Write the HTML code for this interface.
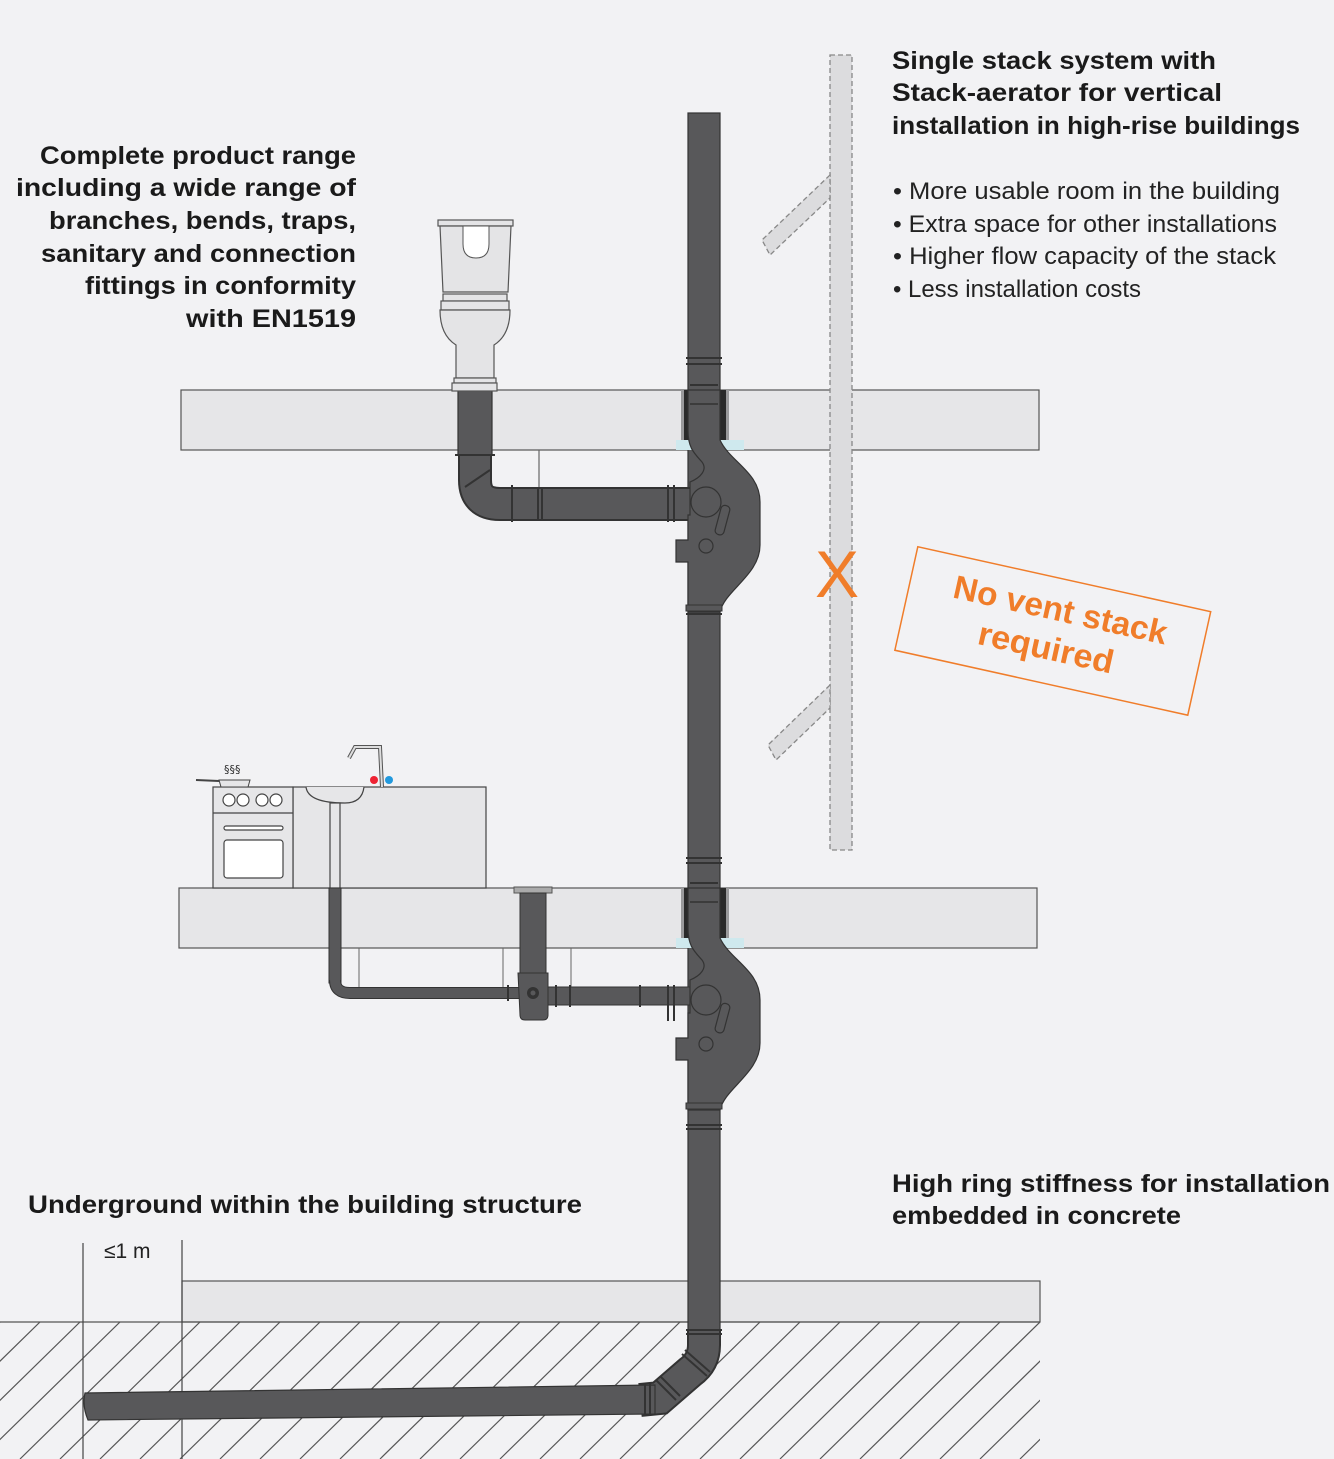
<!DOCTYPE html>
<html><head><meta charset="utf-8"><style>
html,body{margin:0;padding:0;background:#f2f2f4;}
svg{display:block;}
.b{font-family:"Liberation Sans",sans-serif;font-weight:bold;font-size:25px;fill:#1a1a1a;}
.n{font-family:"Liberation Sans",sans-serif;font-size:24px;fill:#222;}
</style></head><body>
<svg width="1334" height="1459" viewBox="0 0 1334 1459" xmlns="http://www.w3.org/2000/svg">
<defs>
<clipPath id="g"><rect x="0" y="1322" width="1040" height="137"/></clipPath>
<g id="aer">
<rect x="681" y="0" width="48" height="60" fill="#9a9a9c"/>
<rect x="684" y="0" width="42" height="60" fill="#2a2a2a"/>
<rect x="676" y="50" width="68" height="10" fill="#cfe9ee"/>
<path d="M688,0 L720,0 L720,50 C730,72 760,82 760,112 L760,155 C760,185 725,200 720,222 L688,222 L688,172 L676,172 L676,150 L688,150 L688,125 L690,125 L690,92 C700,88 708,80 702,72 C694,63 688,58 688,40 Z" fill="#58585a" stroke="#333" stroke-width="1.2"/>
<line x1="690" y1="-5" x2="718" y2="-5" stroke="#333" stroke-width="2"/>
<line x1="690" y1="14" x2="718" y2="14" stroke="#333" stroke-width="1.5"/>
<circle cx="706" cy="112" r="15" fill="#58585a" stroke="#333" stroke-width="1.2"/>
<circle cx="706" cy="156" r="7" fill="#58585a" stroke="#333" stroke-width="1.2"/>
<rect x="718" y="115" width="9" height="30" rx="4" fill="#58585a" stroke="#333" stroke-width="1.2" transform="rotate(15 722 130)"/>
<rect x="686" y="215" width="36" height="6" fill="#58585a" stroke="#333" stroke-width="1"/>
</g>
</defs>
<rect width="1334" height="1459" fill="#f2f2f4"/>

<!-- slabs -->
<rect x="181" y="390" width="858" height="60" fill="#e6e6e8" stroke="#555" stroke-width="1.2"/>
<rect x="179" y="888" width="858" height="60" fill="#e6e6e8" stroke="#555" stroke-width="1.2"/>
<rect x="182" y="1281" width="858" height="41" fill="#e6e6e8" stroke="#555" stroke-width="1.2"/>

<!-- vent stack dashed -->
<g fill="#dcdcde" stroke="#888" stroke-width="1.3" stroke-dasharray="5,3">
<path d="M830,55 L852,55 L852,850 L830,850 Z"/>
<path d="M830,175 L762,240 L770,255 L830,198 Z"/>
<path d="M830,685 L768,745 L776,760 L830,708 Z"/>
</g>

<line x1="0" y1="1322" x2="1040" y2="1322" stroke="#555" stroke-width="1.2"/>
<g clip-path="url(#g)" stroke="#555" stroke-width="1.2">
<line x1="-140" y1="1459" x2="0" y2="1322"/><line x1="-100" y1="1459" x2="40" y2="1322"/>
<line x1="-60" y1="1459" x2="80" y2="1322"/><line x1="-20" y1="1459" x2="120" y2="1322"/>
<line x1="20" y1="1459" x2="160" y2="1322"/><line x1="60" y1="1459" x2="200" y2="1322"/>
<line x1="100" y1="1459" x2="240" y2="1322"/><line x1="140" y1="1459" x2="280" y2="1322"/>
<line x1="180" y1="1459" x2="320" y2="1322"/><line x1="220" y1="1459" x2="360" y2="1322"/>
<line x1="260" y1="1459" x2="400" y2="1322"/><line x1="300" y1="1459" x2="440" y2="1322"/>
<line x1="340" y1="1459" x2="480" y2="1322"/><line x1="380" y1="1459" x2="520" y2="1322"/>
<line x1="420" y1="1459" x2="560" y2="1322"/><line x1="460" y1="1459" x2="600" y2="1322"/>
<line x1="500" y1="1459" x2="640" y2="1322"/><line x1="540" y1="1459" x2="680" y2="1322"/>
<line x1="580" y1="1459" x2="720" y2="1322"/><line x1="620" y1="1459" x2="760" y2="1322"/>
<line x1="660" y1="1459" x2="800" y2="1322"/><line x1="700" y1="1459" x2="840" y2="1322"/>
<line x1="740" y1="1459" x2="880" y2="1322"/><line x1="780" y1="1459" x2="920" y2="1322"/>
<line x1="820" y1="1459" x2="960" y2="1322"/><line x1="860" y1="1459" x2="1000" y2="1322"/>
<line x1="900" y1="1459" x2="1040" y2="1322"/><line x1="940" y1="1459" x2="1080" y2="1322"/>
<line x1="980" y1="1459" x2="1120" y2="1322"/><line x1="1020" y1="1459" x2="1160" y2="1322"/>
</g>
<!-- dimension -->
<line x1="83" y1="1243" x2="83" y2="1459" stroke="#444" stroke-width="1.2"/>
<line x1="182" y1="1240" x2="182" y2="1459" stroke="#444" stroke-width="1.2"/>
<text x="104" y="1258" class="n" style="font-size:21px">≤1 m</text>

<!-- main stack -->
<rect x="688" y="113" width="32" height="1230" fill="#58585a" stroke="#333" stroke-width="1.2"/>
<path d="M704,1330 L704,1345 Q704,1362 690,1372 L660,1398 L640,1400" fill="none" stroke="#333" stroke-width="34"/>
<path d="M704,1330 L704,1345 Q704,1362 690,1372 L660,1398 L640,1400" fill="none" stroke="#58585a" stroke-width="30"/>
<path d="M85,1393 L655,1385 L655,1414 L88,1420 Q82,1406 85,1393 Z" fill="#58585a" stroke="#333" stroke-width="1.2"/>
<g stroke="#333" stroke-width="2" fill="none">
<line x1="686" y1="1330" x2="722" y2="1330"/><line x1="686" y1="1334" x2="722" y2="1334"/>
<line x1="685" y1="1350" x2="710" y2="1372"/><line x1="682" y1="1354" x2="707" y2="1376"/>
<line x1="660" y1="1376" x2="680" y2="1396"/><line x1="656" y1="1380" x2="676" y2="1400"/>
<line x1="645" y1="1383" x2="645" y2="1416"/><line x1="650" y1="1383" x2="650" y2="1416"/>
<line x1="686" y1="358" x2="722" y2="358"/><line x1="686" y1="364" x2="722" y2="364"/>
<line x1="686" y1="610" x2="722" y2="610"/><line x1="686" y1="614" x2="722" y2="614"/>
<line x1="686" y1="858" x2="722" y2="858"/><line x1="686" y1="863" x2="722" y2="863"/>
<line x1="686" y1="1125" x2="722" y2="1125"/><line x1="686" y1="1129" x2="722" y2="1129"/>
</g>

<!-- upper branch -->
<line x1="539" y1="450" x2="539" y2="490" stroke="#666" stroke-width="1.2"/>
<rect x="458" y="390" width="34" height="65" fill="#58585a" stroke="#333" stroke-width="1.2"/>
<path d="M475,455 L475,480 Q475,504 500,504 L690,504" fill="none" stroke="#333" stroke-width="34"/>
<path d="M475,455 L475,480 Q475,504 500,504 L690,504" fill="none" stroke="#58585a" stroke-width="30"/>
<g stroke="#333" stroke-width="2"><line x1="455" y1="455" x2="495" y2="455"/><line x1="465" y1="487" x2="490" y2="470"/><line x1="512" y1="485" x2="512" y2="522"/><line x1="538" y1="488" x2="538" y2="520"/><line x1="542" y1="488" x2="542" y2="520"/><line x1="668" y1="485" x2="668" y2="522"/><line x1="674" y1="485" x2="674" y2="522"/></g>
<use href="#aer" transform="translate(0,390)"/>

<!-- toilet -->
<g fill="#e4e4e6" stroke="#555" stroke-width="1.2">
<rect x="438" y="220" width="75" height="6"/>
<path d="M440,226 L511,226 L508,292 L443,292 Z"/>
<rect x="443" y="294" width="64" height="7"/>
<rect x="441" y="301" width="68" height="9"/>
<path d="M440,310 L510,310 Q510,335 494,345 L494,378 L456,378 L456,345 Q440,335 440,310 Z"/>
<rect x="454" y="378" width="42" height="5"/>
<rect x="452" y="383" width="45" height="8"/>
</g>
<path d="M463,226 L489,226 L489,244 Q489,258 476,258 Q463,258 463,244 Z" fill="#fff" stroke="#555"/>

<!-- kitchen -->
<g fill="#e6e6e8" stroke="#444" stroke-width="1.2">
<rect x="293" y="787" width="193" height="101"/>
<rect x="213" y="787" width="80" height="101"/>
<line x1="213" y1="813" x2="293" y2="813"/>
<rect x="224" y="826" width="59" height="4" rx="2" fill="#fff"/>
<rect x="224" y="840" width="59" height="38" rx="3" fill="#fff"/>
<path d="M306,787 Q308,803 345,803 Q362,803 364,787" fill="#e6e6e8"/>
<rect x="330" y="803" width="10" height="85"/>
</g>
<g fill="#fff" stroke="#444" stroke-width="1.2"><circle cx="229" cy="800" r="6"/><circle cx="243" cy="800" r="6"/><circle cx="262" cy="800" r="6"/><circle cx="276" cy="800" r="6"/></g>
<path d="M219,780 L250,780 L248,787 L221,787 Z" fill="#e6e6e8" stroke="#444"/>
<line x1="196" y1="780" x2="219" y2="781" stroke="#444" stroke-width="2"/>
<text x="224" y="773" font-family="DejaVu Sans" font-size="11" fill="#333">§§§</text>
<path d="M349,758 L355,747 L380,747 L382,787" fill="none" stroke="#555" stroke-width="4"/>
<path d="M349,758 L355,747 L380,747 L382,787" fill="none" stroke="#ddd" stroke-width="2"/>
<circle cx="374" cy="780" r="4" fill="#e23"/><circle cx="389" cy="780" r="4" fill="#29d"/>

<!-- lower branch -->
<line x1="359" y1="948" x2="359" y2="990" stroke="#666"/><line x1="503" y1="948" x2="503" y2="990" stroke="#666"/><line x1="571" y1="948" x2="571" y2="990" stroke="#666"/>
<rect x="329" y="888" width="12" height="95" fill="#58585a" stroke="#333"/>
<path d="M335,980 Q335,993 350,993 L520,993" fill="none" stroke="#333" stroke-width="12"/>
<path d="M335,980 Q335,993 350,993 L520,993" fill="none" stroke="#58585a" stroke-width="10"/>
<rect x="514" y="887" width="38" height="6" fill="#aaa" stroke="#555"/>
<rect x="520" y="893" width="26" height="82" fill="#58585a" stroke="#333"/>
<path d="M518,973 L548,973 L548,1015 Q548,1020 543,1020 L525,1020 Q520,1020 520,1015 Z" fill="#58585a" stroke="#333"/>
<circle cx="533" cy="993" r="6" fill="#333"/><circle cx="533" cy="993" r="2.5" fill="#58585a"/>
<rect x="548" y="987" width="142" height="18" fill="#58585a" stroke="#333"/>
<g stroke="#333" stroke-width="2"><line x1="508" y1="985" x2="508" y2="1001"/><line x1="556" y1="985" x2="556" y2="1007"/><line x1="570" y1="985" x2="570" y2="1007"/><line x1="640" y1="985" x2="640" y2="1007"/><line x1="668" y1="985" x2="668" y2="1021"/><line x1="674" y1="985" x2="674" y2="1021"/></g>
<use href="#aer" transform="translate(0,888)"/>

<!-- X -->
<text x="815" y="597" font-family="Liberation Sans,sans-serif" font-size="66" fill="#f07d2a">X</text>
<!-- orange box -->
<g transform="rotate(12.5 1053 630)">
<rect x="903" y="578" width="300" height="106" fill="none" stroke="#f07d2a" stroke-width="1.5"/>
<text x="1056" y="620" text-anchor="middle" font-family="Liberation Sans,sans-serif" font-weight="bold" font-size="33" fill="#f07d2a" textLength="218" lengthAdjust="spacingAndGlyphs">No vent stack</text>
<text x="1050" y="660" text-anchor="middle" font-family="Liberation Sans,sans-serif" font-weight="bold" font-size="33" fill="#f07d2a" textLength="138" lengthAdjust="spacingAndGlyphs">required</text>
</g>

<!-- text -->
<g class="b" text-anchor="end">
<text x="356" y="164" textLength="316" lengthAdjust="spacingAndGlyphs">Complete product range</text>
<text x="356" y="196" textLength="340" lengthAdjust="spacingAndGlyphs">including a wide range of</text>
<text x="356" y="229" textLength="307" lengthAdjust="spacingAndGlyphs">branches, bends, traps,</text>
<text x="356" y="262" textLength="315" lengthAdjust="spacingAndGlyphs">sanitary and connection</text>
<text x="356" y="294" textLength="271" lengthAdjust="spacingAndGlyphs">fittings in conformity</text>
<text x="356" y="327" textLength="170" lengthAdjust="spacingAndGlyphs">with EN1519</text>
</g>
<g class="b">
<text x="892" y="69" textLength="324" lengthAdjust="spacingAndGlyphs">Single stack system with</text>
<text x="892" y="101" textLength="330" lengthAdjust="spacingAndGlyphs">Stack-aerator for vertical</text>
<text x="892" y="134" textLength="408" lengthAdjust="spacingAndGlyphs">installation in high-rise buildings</text>
<text x="28" y="1213" textLength="554" lengthAdjust="spacingAndGlyphs">Underground within the building structure</text>
<text x="892" y="1192" textLength="438" lengthAdjust="spacingAndGlyphs">High ring stiffness for installation</text>
<text x="892" y="1224" textLength="289" lengthAdjust="spacingAndGlyphs">embedded in concrete</text>
</g>
<g class="n">
<text x="893" y="199" textLength="387" lengthAdjust="spacingAndGlyphs">• More usable room in the building</text>
<text x="893" y="232" textLength="384" lengthAdjust="spacingAndGlyphs">• Extra space for other installations</text>
<text x="893" y="264" textLength="383" lengthAdjust="spacingAndGlyphs">• Higher flow capacity of the stack</text>
<text x="893" y="297" textLength="248" lengthAdjust="spacingAndGlyphs">• Less installation costs</text>
</g>
</svg>
</body></html>
